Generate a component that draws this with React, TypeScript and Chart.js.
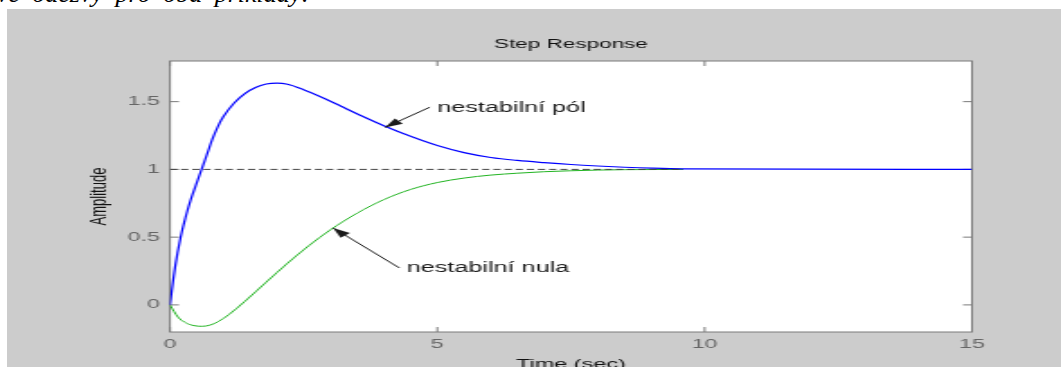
import React, { useEffect, useRef } from 'react';
import { Chart, registerables } from 'chart.js';

Chart.register(...registerables);

// ---- data ----
const blueT = [0, 0.1, 0.2, 0.3, 0.4, 0.5, 0.6, 0.7, 0.8, 0.9, 1.0, 1.2, 1.4, 1.6, 1.8, 2.0, 2.2, 2.5, 2.9, 3.2, 3.6, 4.0, 4.5, 5.0, 5.5, 6.0, 6.5, 7.0, 7.5, 8.0, 8.5, 9.0, 9.6, 15];
const blueV = [0, 0.29, 0.5, 0.66, 0.79, 0.9, 1.01, 1.12, 1.23, 1.32, 1.39, 1.49, 1.56, 1.605, 1.63, 1.637, 1.628, 1.588, 1.522, 1.466, 1.392, 1.322, 1.244, 1.176, 1.124, 1.088, 1.066, 1.05, 1.036, 1.025, 1.016, 1.009, 1.004, 1.0];
const greenT = [0, 0.15, 0.3, 0.45, 0.6, 0.75, 0.9, 1.1, 1.4, 1.8, 2.2, 2.6, 3.0, 3.5, 4.0, 4.5, 5.0, 5.5, 6.0, 6.5, 7.0, 7.5, 8.0, 8.5, 9.0, 9.6];
const greenV = [0, -0.09, -0.133, -0.153, -0.158, -0.149, -0.124, -0.072, 0.026, 0.168, 0.308, 0.438, 0.554, 0.677, 0.777, 0.852, 0.903, 0.936, 0.958, 0.972, 0.983, 0.99, 0.995, 0.998, 0.999, 1.0];
const steadyT = [0, 9.6];
const steadyV = [1, 1];

const xTicks = [0, 5, 10, 15];
const yTicks = [0, 0.5, 1, 1.5];
const xRange = [0, 15];
const yRange = [-0.2, 1.8];

const noteLabels = ['nestabilní pól', 'nestabilní nula'];
const noteTextAt = [[5.0, 1.449], [4.43, 0.273]];
const noteTailAt = [[4.86, 1.459], [4.29, 0.273]];
const noteTipAt = [[4.02, 1.31], [3.05, 0.568]];

// ---- layout (backing pixels; canvas is stretched horizontally) ----
const W = 586;
const H = 380;
const DISPLAY_W = 1054;
const AREA_LEFT = 90.6;
const AREA_RIGHT = 536.5;
const AREA_BOTTOM = 323;
const FONT = '"Liberation Sans", Arial, Helvetica, sans-serif';

const toPts = (t: number[], v: number[]) => t.map((x, i) => ({ x, y: v[i] }));

const framePlugin = {
  id: 'matlabFrame',
  beforeDraw(chart: any) {
    const { ctx, chartArea: a } = chart;
    ctx.save();
    ctx.fillStyle = '#cccccc';
    ctx.fillRect(0, 0, chart.width, chart.height);
    ctx.fillStyle = '#ffffff';
    ctx.fillRect(a.left, a.top, a.right - a.left, a.bottom - a.top);
    ctx.restore();
  },
  beforeDatasetsDraw(chart: any) {
    const { ctx, chartArea: a, scales } = chart;
    const xs = scales.x;
    const ys = scales.y;
    ctx.save();
    ctx.strokeStyle = '#7a7a7a';
    ctx.lineWidth = 1;
    ctx.strokeRect(a.left, a.top, a.right - a.left, a.bottom - a.top);
    ctx.beginPath();
    xTicks.forEach((v) => {
      const p = xs.getPixelForValue(v);
      ctx.moveTo(p, a.bottom);
      ctx.lineTo(p, a.bottom - 5);
      ctx.moveTo(p, a.top);
      ctx.lineTo(p, a.top + 5);
    });
    yTicks.forEach((v) => {
      const p = ys.getPixelForValue(v);
      ctx.moveTo(a.left, p);
      ctx.lineTo(a.left + 5, p);
      ctx.moveTo(a.right, p);
      ctx.lineTo(a.right - 5, p);
    });
    ctx.stroke();
    ctx.restore();
  },
  afterDatasetsDraw(chart: any) {
    const { ctx, scales } = chart;
    const xs = scales.x;
    const ys = scales.y;
    ctx.save();
    ctx.fillStyle = '#1a1a1a';
    ctx.strokeStyle = '#1a1a1a';
    ctx.font = `14px ${FONT}`;
    ctx.textBaseline = 'middle';
    ctx.textAlign = 'left';
    noteLabels.forEach((label, i) => {
      const tx = xs.getPixelForValue(noteTextAt[i][0]);
      const ty = ys.getPixelForValue(noteTextAt[i][1]);
      ctx.fillText(label, tx, ty);
      const x0 = xs.getPixelForValue(noteTailAt[i][0]);
      const y0 = ys.getPixelForValue(noteTailAt[i][1]);
      const x1 = xs.getPixelForValue(noteTipAt[i][0]);
      const y1 = ys.getPixelForValue(noteTipAt[i][1]);
      ctx.lineWidth = 1;
      ctx.beginPath();
      ctx.moveTo(x0, y0);
      ctx.lineTo(x1, y1);
      ctx.stroke();
      const ang = Math.atan2(y1 - y0, x1 - x0);
      const len = 10;
      const half = 3.5;
      const c = Math.cos(ang);
      const s = Math.sin(ang);
      const bx = x1 - len * c;
      const by = y1 - len * s;
      ctx.beginPath();
      ctx.moveTo(x1, y1);
      ctx.lineTo(bx + half * s, by - half * c);
      ctx.lineTo(bx - half * s, by + half * c);
      ctx.closePath();
      ctx.fill();
    });
    ctx.restore();
  },
};

export default function App() {
  const ref = useRef<HTMLCanvasElement>(null);

  useEffect(() => {
    document.body.style.margin = '0';
    if (!ref.current) return;
    const chart = new Chart(ref.current, {
      type: 'line',
      data: {
        datasets: [
          {
            data: toPts(steadyT, steadyV),
            borderColor: '#444444',
            borderWidth: 1,
            borderDash: [4, 2.2],
            pointRadius: 0,
            fill: false,
          },
          {
            data: toPts(blueT, blueV),
            borderColor: '#0000ff',
            borderWidth: 1.2,
            pointRadius: 0,
            cubicInterpolationMode: 'monotone',
            fill: false,
          },
          {
            data: toPts(greenT, greenV),
            borderColor: '#22b422',
            borderWidth: 1,
            pointRadius: 0,
            cubicInterpolationMode: 'monotone',
            fill: false,
          },
        ],
      },
      options: {
        animation: false,
        responsive: false,
        devicePixelRatio: 1,
        layout: {
          padding: { left: 0, right: W - AREA_RIGHT, top: 0, bottom: 0 },
          autoPadding: false,
        },
        plugins: {
          legend: { display: false },
          tooltip: { enabled: false },
          title: {
            display: true,
            fullSize: false,
            text: 'Step Response',
            color: '#111111',
            font: { family: FONT, size: 12.5, weight: 'normal' },
            padding: { top: 28.5, bottom: 8.5 },
          },
        },
        scales: {
          x: {
            type: 'linear',
            min: xRange[0],
            max: xRange[1],
            grid: { display: false, drawTicks: false },
            border: { display: false },
            afterBuildTicks: (s: any) => {
              s.ticks = xTicks.map((v) => ({ value: v }));
            },
            afterFit: (s: any) => {
              s.height = H - AREA_BOTTOM;
            },
            ticks: {
              color: '#666666',
              font: { family: FONT, size: 13 },
              padding: 4.4,
              maxRotation: 0,
              autoSkip: false,
              callback: (v: any) => String(v),
            },
            title: {
              display: true,
              text: 'Time (sec)',
              color: '#111111',
              font: { family: FONT, size: 13 },
              padding: { top: 0, bottom: 17.2 },
            },
          },
          y: {
            type: 'linear',
            min: yRange[0],
            max: yRange[1],
            grid: { display: false, drawTicks: false },
            border: { display: false },
            afterBuildTicks: (s: any) => {
              s.ticks = yTicks.map((v) => ({ value: v }));
            },
            afterFit: (s: any) => {
              s.width = AREA_LEFT;
            },
            ticks: {
              color: '#666666',
              font: { family: FONT, size: 13 },
              padding: 5.5,
              autoSkip: false,
              callback: (v: any) => String(v),
            },
            title: {
              display: true,
              text: 'Amplitude',
              color: '#111111',
              font: { family: FONT, size: 13 },
              padding: { top: 43.9, bottom: 0 },
            },
          },
        },
      },
      plugins: [framePlugin],
    } as any);
    return () => chart.destroy();
  }, []);

  return (
    <div
      style={{
        position: 'fixed',
        left: 0,
        top: 0,
        width: 1061,
        height: 367,
        overflow: 'hidden',
        background: '#ffffff',
      }}
    >
      <div
        style={{
          position: 'absolute',
          right: 1061 - 310,
          top: -19,
          whiteSpace: 'nowrap',
          fontFamily: '"Liberation Serif", "Times New Roman", serif',
          fontStyle: 'italic',
          fontSize: 26,
          lineHeight: '26px',
          wordSpacing: '6px',
          color: '#000000',
        }}
      >
        Přechodové odezvy pro oba příklady:
      </div>
      <div
        style={{
          position: 'absolute',
          left: 7,
          top: 9,
          width: W,
          height: H,
          transform: `scaleX(${DISPLAY_W / W})`,
          transformOrigin: '0 0',
        }}
      >
        <canvas ref={ref} width={W} height={H} />
      </div>
    </div>
  );
}
